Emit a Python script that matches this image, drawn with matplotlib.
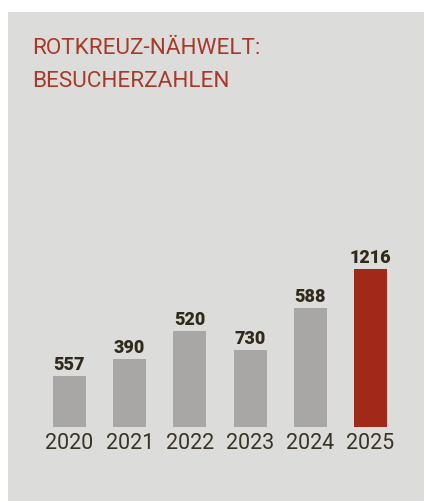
import matplotlib.pyplot as plt
from matplotlib.patches import Rectangle

# Daten
jahre = ["2020", "2021", "2022", "2023", "2024", "2025"]
besucher_text = ["557", "390", "520", "730", "588", "1216"]
# Balkenhoehen so wie im Bild gezeichnet (nicht proportional zu den Zahlen)
balken_hoehe = [51, 68, 96, 77, 119, 158]
balken_farbe = ["#a8a7a5"] * 5 + ["#a0291a"]

W, H = 424, 502
fig = plt.figure(figsize=(W / 100, H / 100), dpi=100)
fig.patch.set_facecolor("white")

# grauer Kasten
fig.patches.append(Rectangle((8 / W, 0), 1 - 8 / W, 1 - 13 / H,
                             transform=fig.transFigure, facecolor="#dcdcdb",
                             edgecolor="none", zorder=-5))

# Titel
titel_farbe = "#a83a2b"
fig.text(32 / W, 1 - 54 / H, "ROTKREUZ-NÄHWELT:", color=titel_farbe,
         fontsize=16.2, family="Roboto", va="baseline")
fig.text(32 / W, 1 - 87 / H, "BESUCHERZAHLEN", color=titel_farbe,
         fontsize=16.2, family="Roboto", va="baseline")

# Achse: 1 Einheit in x = 60.2 px, 1 Einheit in y = 1 px
step = 60.2
left = 69.5 - step / 2
ax = fig.add_axes([left / W, 74 / H, 6 * step / W, 200 / H])
ax.set_zorder(2)
ax.set_xlim(-0.5, 5.5)
ax.set_ylim(0, 200)
ax.patch.set_alpha(0)

x = range(len(jahre))
ax.bar(x, balken_hoehe, width=33 / step, color=balken_farbe)

for i, h in enumerate(balken_hoehe):
    ax.annotate(besucher_text[i], (i, h), xytext=(0, 2.5), textcoords="offset points",
                ha="center", va="bottom", fontsize=13, family="Roboto",
                fontweight="heavy", color="#2f2a1c")

ax.set_xticks(list(x))
ax.set_xticklabels(jahre, fontsize=15.5, family="Roboto", color="#3a3426")
ax.tick_params(axis="x", length=0, pad=3.5)
ax.set_yticks([])
for s in ax.spines.values():
    s.set_visible(False)

fig.savefig("out.png", dpi=100)
